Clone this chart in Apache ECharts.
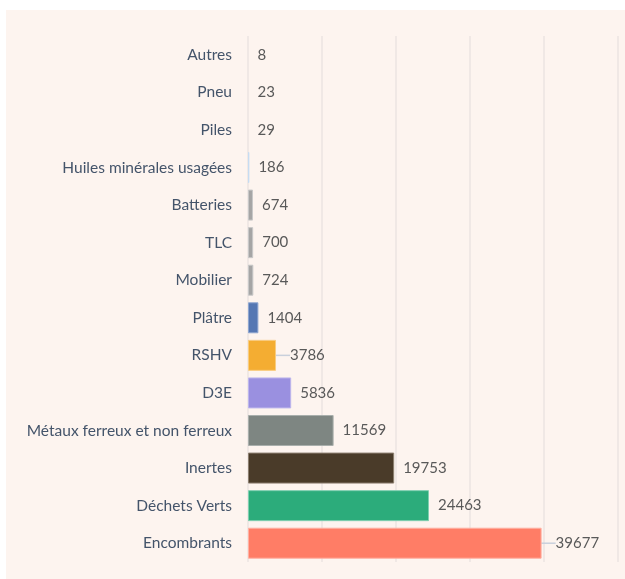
<!DOCTYPE html>
<html>
<head>
<meta charset="utf-8">
<script src="https://cdn.jsdelivr.net/npm/echarts@6/dist/echarts.min.js"></script>
<style>
  html, body { margin: 0; padding: 0; background: #ffffff; }
  #chart { position: absolute; left: 6px; top: 10px; width: 619px; height: 569px; }
</style>
</head>
<body>
<div id="chart"></div>
<script>
// categories, top to bottom
var categories = ['Autres', 'Pneu', 'Piles', 'Huiles minérales usagées', 'Batteries', 'TLC',
    'Mobilier', 'Plâtre', 'RSHV', 'D3E', 'Métaux ferreux et non ferreux', 'Inertes',
    'Déchets Verts', 'Encombrants'];
var tonnages = [8, 23, 29, 186, 674, 700, 724, 1404, 3786, 5836, 11569, 19753, 24463, 39677];
var barColors = ['#fdf4ef', '#fdf4ef', '#fdf4ef', '#a9c8ea', '#a5a5a5', '#a5a5a5', '#a5a5a5',
    '#5577b3', '#f4ad32', '#9a90e0', '#7e8682', '#4a3b29', '#2cac7b', '#ff7d66'];
var borderColors = ['transparent', 'transparent', 'transparent', '#c6dcf2', '#c8c8c8', '#c8c8c8', '#c8c8c8',
    '#8ea6d0', '#f8cc80', '#bdb6ec', '#a9afac', '#8c7f70', '#7fcfb0', '#ffb0a2'];
// labels that Excel pushed away and joined with a leader line
var leaderLabels = ['RSHV', 'Encombrants'];
var axisMax = 50000;
var axisStep = 10000;

var chart = echarts.init(document.getElementById('chart'));

var seriesData = tonnages.map(function (v, i) {
    var hasLeader = leaderLabels.indexOf(categories[i]) >= 0;
    return {
        value: v,
        itemStyle: { color: barColors[i], borderColor: borderColors[i], borderWidth: 1 },
        label: { distance: hasLeader ? 2 : 9 },
        labelLine: { show: hasLeader }
    };
});

var option = {
    backgroundColor: '#fdf4ef',
    animation: false,
    grid: { left: 242, right: 7, top: 26, bottom: 17, containLabel: false },
    xAxis: {
        type: 'value',
        min: 0,
        max: axisMax,
        interval: axisStep,
        axisLabel: { show: false },
        axisLine: { show: false },
        axisTick: { show: false },
        splitLine: { show: true, lineStyle: { color: '#ebe5e2', width: 1.5 } }
    },
    yAxis: {
        type: 'category',
        inverse: true,
        data: categories,
        axisLine: { show: false },
        axisTick: { show: false },
        axisLabel: {
            margin: 16,
            color: '#44546a',
            fontFamily: 'Lato',
            fontSize: 15.5
        }
    },
    series: [
        {
            type: 'bar',
            data: seriesData,
            barWidth: 31,
            label: {
                show: true,
                position: 'right',
                color: '#595959',
                fontFamily: 'Lato',
                fontSize: 15
            },
            labelLine: {
                show: false,
                lineStyle: { color: '#c9d0dc', width: 1.5 }
            },
            labelLayout: function (params) {
                if (leaderLabels.indexOf(categories[params.dataIndex]) >= 0) {
                    return { dx: 12 };
                }
                return {};
            }
        }
    ]
};

chart.setOption(option);
</script>
</body>
</html>
